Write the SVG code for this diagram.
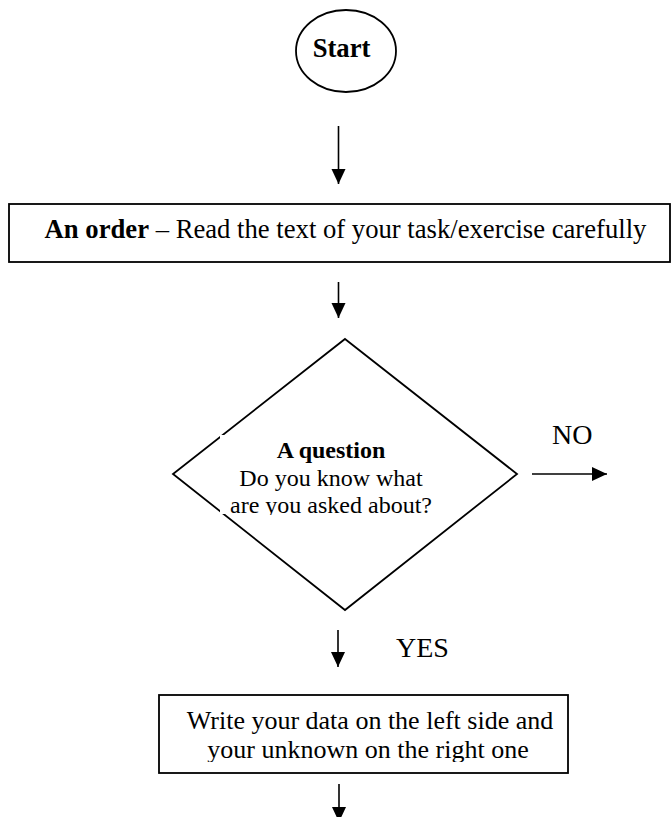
<svg xmlns="http://www.w3.org/2000/svg" width="672" height="817" viewBox="0 0 672 817">
<style>
.shape{fill:#fff;stroke:#000;stroke-width:1.8}
.t{font-family:"Liberation Serif","Times New Roman",serif;fill:#000}
.b{font-weight:bold}
.c{stroke:#000;stroke-width:1.6;fill:none}
</style>
<defs>
<marker id="ah" markerUnits="userSpaceOnUse" markerWidth="16" markerHeight="16" viewBox="0 0 16 16" refX="15" refY="8" orient="auto">
<path d="M0,1 L15,8 L0,15 Z" fill="#000"/>
</marker>
<clipPath id="clipQ"><rect x="220" y="435" width="221" height="80"/></clipPath>
<clipPath id="clipW"><rect x="160" y="696" width="407" height="66"/></clipPath>
</defs>
<rect width="672" height="817" fill="#fff"/>
<g id="start">
<ellipse class="shape" cx="346" cy="51" rx="50" ry="41"/>
<text class="t b" x="341.5" y="57" font-size="26.67" text-anchor="middle">Start</text>
</g>
<g id="order">
<rect class="shape" x="9" y="204" width="661" height="58"/>
<text class="t" x="345.5" y="238" font-size="26.67" text-anchor="middle"><tspan class="b">An order</tspan> – Read the text of your task/exercise carefully</text>
</g>
<g id="question">
<polygon class="shape" points="345,339 517,474 345,610 173,474"/>
<rect x="220" y="435" width="221" height="79" fill="#fff"/>
<g clip-path="url(#clipQ)">
<text class="t b" x="331" y="458" font-size="24" text-anchor="middle">A question</text>
<text class="t" x="331" y="486" font-size="24" text-anchor="middle">Do you know what</text>
<text class="t" x="331" y="513" font-size="24" text-anchor="middle">are you asked about?</text>
</g>
</g>
<g id="write">
<rect class="shape" x="159" y="695" width="409" height="78"/>
<g clip-path="url(#clipW)">
<text class="t" x="370" y="729" font-size="26" text-anchor="middle">Write your data on the left side and</text>
<text class="t" x="368" y="758" font-size="26" text-anchor="middle">your unknown on the right one</text>
</g>
</g>
<g id="connectors">
<line class="c" x1="338.5" y1="126" x2="338.5" y2="184" marker-end="url(#ah)"/>
<line class="c" x1="338.5" y1="282" x2="338.5" y2="318" marker-end="url(#ah)"/>
<line class="c" x1="532" y1="474" x2="607" y2="474" marker-end="url(#ah)"/>
<line class="c" x1="338" y1="630" x2="338" y2="667" marker-end="url(#ah)"/>
<line class="c" x1="339" y1="784" x2="339" y2="822" marker-end="url(#ah)"/>
</g>
<g id="labels">
<text class="t" x="552" y="444" font-size="28">NO</text>
<text class="t" x="396" y="657" font-size="28">YES</text>
</g>
</svg>
